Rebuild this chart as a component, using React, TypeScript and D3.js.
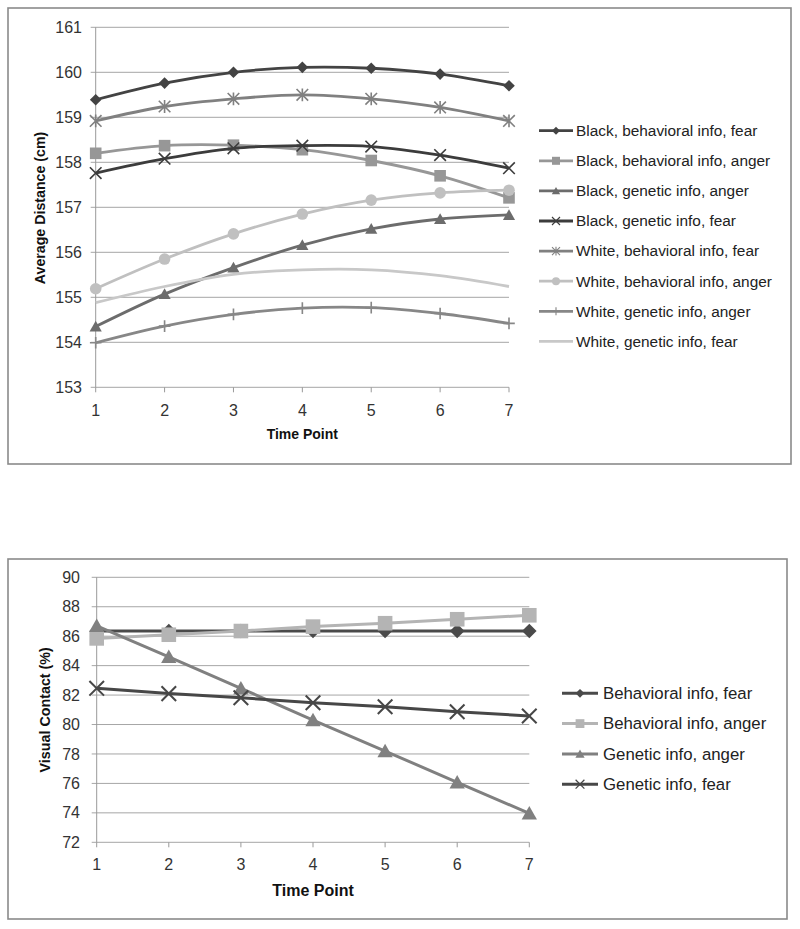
import React from "react";
import * as d3 from "d3";

// ---------- data ----------
const timePoints = [1, 2, 3, 4, 5, 6, 7];

// Chart 1: Average distance (cm)
const distanceTicks = [153, 154, 155, 156, 157, 158, 159, 160, 161];
const blackBehavFear = [159.39, 159.76, 160.0, 160.11, 160.09, 159.96, 159.7];
const blackBehavAnger = [158.2, 158.37, 158.38, 158.28, 158.04, 157.7, 157.21];
const blackGenAnger = [154.35, 155.07, 155.66, 156.16, 156.52, 156.74, 156.83];
const blackGenFear = [157.76, 158.08, 158.31, 158.37, 158.35, 158.16, 157.87];
const whiteBehavFear = [158.92, 159.24, 159.41, 159.5, 159.41, 159.22, 158.92];
const whiteBehavAnger = [155.19, 155.85, 156.41, 156.85, 157.16, 157.32, 157.38];
const whiteGenAnger = [153.99, 154.36, 154.62, 154.76, 154.77, 154.64, 154.42];
const whiteGenFear = [154.88, 155.24, 155.51, 155.61, 155.61, 155.48, 155.24];

const distanceNames = [
  "Black, behavioral info, fear",
  "Black, behavioral info, anger",
  "Black, genetic info, anger",
  "Black, genetic info, fear",
  "White, behavioral info, fear",
  "White, behavioral info, anger",
  "White, genetic info, anger",
  "White, genetic info, fear",
];

// Chart 2: Visual contact (%)
const contactTicks = [72, 74, 76, 78, 80, 82, 84, 86, 88, 90];
const behavFear = [86.35, 86.35, 86.35, 86.35, 86.35, 86.35, 86.35];
const behavAnger = [85.85, 86.1, 86.35, 86.65, 86.88, 87.15, 87.42];
const genAnger = [86.7, 84.6, 82.46, 80.3, 78.2, 76.07, 73.97];
const genFear = [82.46, 82.1, 81.82, 81.48, 81.21, 80.87, 80.58];

const contactNames = [
  "Behavioral info, fear",
  "Behavioral info, anger",
  "Genetic info, anger",
  "Genetic info, fear",
];

// ---------- styles ----------
const FONT = "'Liberation Sans', Arial, sans-serif";

type Marker = "diamond" | "square" | "triangle" | "x" | "asterisk" | "circle" | "plus" | "none";

function MarkerShape({ type, x, y, r, color }: { type: Marker; x: number; y: number; r: number; color: string }) {
  const sw = Math.max(1, r * 0.28);
  switch (type) {
    case "diamond":
      return <path d={`M${x},${y - r}L${x + r},${y}L${x},${y + r}L${x - r},${y}Z`} fill={color} />;
    case "square":
      return <rect x={x - r} y={y - r} width={2 * r} height={2 * r} fill={color} />;
    case "triangle":
      return <path d={`M${x},${y - r}L${x + r * 1.05},${y + r * 0.85}L${x - r * 1.05},${y + r * 0.85}Z`} fill={color} />;
    case "circle":
      return <circle cx={x} cy={y} r={r} fill={color} />;
    case "x":
      return (
        <path d={`M${x - r},${y - r}L${x + r},${y + r}M${x - r},${y + r}L${x + r},${y - r}`} stroke={color} strokeWidth={sw} fill="none" />
      );
    case "asterisk":
      return (
        <path
          d={`M${x - r},${y - r}L${x + r},${y + r}M${x - r},${y + r}L${x + r},${y - r}M${x},${y - r * 1.1}L${x},${y + r * 1.1}`}
          stroke={color}
          strokeWidth={sw}
          fill="none"
        />
      );
    case "plus":
      return (
        <path d={`M${x},${y - r}L${x},${y + r}M${x - r},${y}L${x + r},${y}`} stroke={color} strokeWidth={sw} fill="none" />
      );
    default:
      return null;
  }
}

interface Series {
  name: string;
  values: number[];
  color: string;
  marker: Marker;
}

interface ChartSpec {
  box: [number, number, number, number];
  xRange: [number, number];
  yDomain: [number, number];
  yRange: [number, number];
  yTicks: number[];
  series: Series[];
  smooth: boolean;
  markerR: number;
  lineW: number;
  tickFont: number;
  yTickRight: number;
  xTickY: number;
  xTitle: { x: number; y: number; size: number };
  yTitle: { text: string; x: number; y: number; size: number };
  legend: { x0: number; x1: number; tx: number; y0: number; dy: number; size: number; mr: number };
}

function Chart({ spec }: { spec: ChartSpec }) {
  const x = d3.scaleLinear().domain([1, 7]).range(spec.xRange);
  const y = d3.scaleLinear().domain(spec.yDomain).range(spec.yRange);
  const line = d3
    .line<number>()
    .x((_, i) => x(timePoints[i]))
    .y((v) => y(v))
    .curve(spec.smooth ? d3.curveCatmullRom.alpha(0.5) : d3.curveLinear);
  const [bx0, by0, bx1, by1] = spec.box;
  const gridColor = "#a6a6a6";
  const yBase = y(spec.yDomain[0]);
  return (
    <g fontFamily={FONT}>
      <rect x={bx0} y={by0} width={bx1 - bx0} height={by1 - by0} fill="#fff" stroke="#8a8a8a" strokeWidth={1.6} />
      {spec.yTicks.map((t) => (
        <g key={t}>
          <line x1={spec.xRange[0] - 5} x2={spec.xRange[1]} y1={y(t)} y2={y(t)} stroke={gridColor} strokeWidth={1} />
          <text x={spec.yTickRight} y={y(t)} dy="0.35em" textAnchor="end" fontSize={spec.tickFont} fill="#333">
            {t}
          </text>
        </g>
      ))}
      <line x1={spec.xRange[0]} x2={spec.xRange[0]} y1={spec.yRange[1]} y2={yBase} stroke="#999" strokeWidth={1} />
      {timePoints.map((t) => (
        <g key={t}>
          <line x1={x(t)} x2={x(t)} y1={yBase} y2={yBase + 5} stroke="#999" strokeWidth={1} />
          <text x={x(t)} y={spec.xTickY} dy="0.35em" textAnchor="middle" fontSize={spec.tickFont} fill="#333">
            {t}
          </text>
        </g>
      ))}
      <text x={spec.xTitle.x} y={spec.xTitle.y} dy="0.35em" textAnchor="middle" fontSize={spec.xTitle.size} fontWeight="bold" fill="#111">
        Time Point
      </text>
      <text
        transform={`translate(${spec.yTitle.x},${spec.yTitle.y}) rotate(-90)`}
        dy="0.35em"
        textAnchor="middle"
        fontSize={spec.yTitle.size}
        fontWeight="bold"
        fill="#111"
      >
        {spec.yTitle.text}
      </text>
      {spec.series.map((s) => (
        <g key={s.name}>
          <path d={line(s.values) || ""} fill="none" stroke={s.color} strokeWidth={spec.lineW} strokeLinejoin="round" />
          {s.values.map((v, i) => (
            <MarkerShape key={i} type={s.marker} x={x(timePoints[i])} y={y(v)} r={spec.markerR} color={s.color} />
          ))}
        </g>
      ))}
      {spec.series.map((s, i) => {
        const ly = spec.legend.y0 + i * spec.legend.dy;
        const mx = (spec.legend.x0 + spec.legend.x1) / 2;
        return (
          <g key={"lg" + s.name}>
            <line x1={spec.legend.x0} x2={spec.legend.x1} y1={ly} y2={ly} stroke={s.color} strokeWidth={spec.lineW} />
            <MarkerShape type={s.marker} x={mx} y={ly} r={spec.legend.mr} color={s.color} />
            <text x={spec.legend.tx} y={ly} dy="0.35em" fontSize={spec.legend.size} fill="#222">
              {s.name}
            </text>
          </g>
        );
      })}
    </g>
  );
}

const topColors = ["#434343", "#979797", "#6c6c6c", "#3c3c3c", "#808080", "#c0c0c0", "#878787", "#c8c8c8"];
const topMarkers: Marker[] = ["diamond", "square", "triangle", "x", "asterisk", "circle", "plus", "none"];
const topValues = [
  blackBehavFear,
  blackBehavAnger,
  blackGenAnger,
  blackGenFear,
  whiteBehavFear,
  whiteBehavAnger,
  whiteGenAnger,
  whiteGenFear,
];

const bottomColors = ["#4a4a4a", "#b4b4b4", "#808080", "#474747"];
const bottomMarkers: Marker[] = ["diamond", "square", "triangle", "x"];
const bottomValues = [behavFear, behavAnger, genAnger, genFear];

const topSpec: ChartSpec = {
  box: [8, 8, 791, 464],
  xRange: [95.7, 509],
  yDomain: [153, 161],
  yRange: [387.3, 27.3],
  yTicks: distanceTicks,
  series: distanceNames.map((n, i) => ({ name: n, values: topValues[i], color: topColors[i], marker: topMarkers[i] })),
  smooth: true,
  markerR: 5.8,
  lineW: 2.8,
  tickFont: 16,
  yTickRight: 82,
  xTickY: 410,
  xTitle: { x: 302.3, y: 434, size: 14 },
  yTitle: { text: "Average Distance (cm)", x: 40, y: 208, size: 14.2 },
  legend: { x0: 539, x1: 573, tx: 576, y0: 130.7, dy: 30.1, size: 15.4, mr: 4 },
};

const bottomSpec: ChartSpec = {
  box: [8, 559, 787, 919],
  xRange: [96.7, 529.3],
  yDomain: [72, 90],
  yRange: [842.3, 577.3],
  yTicks: contactTicks,
  series: contactNames.map((n, i) => ({ name: n, values: bottomValues[i], color: bottomColors[i], marker: bottomMarkers[i] })),
  smooth: false,
  markerR: 7.3,
  lineW: 3,
  tickFont: 16,
  yTickRight: 80,
  xTickY: 864.3,
  xTitle: { x: 313, y: 890, size: 16 },
  yTitle: { text: "Visual Contact (%)", x: 45, y: 709.8, size: 14.3 },
  legend: { x0: 562, x1: 598, tx: 603, y0: 693.3, dy: 30.3, size: 16.8, mr: 4.4 },
};

export default function App() {
  return (
    <svg
      width={800}
      height={929}
      style={{ position: "absolute", left: 0, top: 0, background: "#fff" }}
    >
      <rect x={0} y={0} width={800} height={929} fill="#fff" />
      <Chart spec={topSpec} />
      <Chart spec={bottomSpec} />
    </svg>
  );
}
